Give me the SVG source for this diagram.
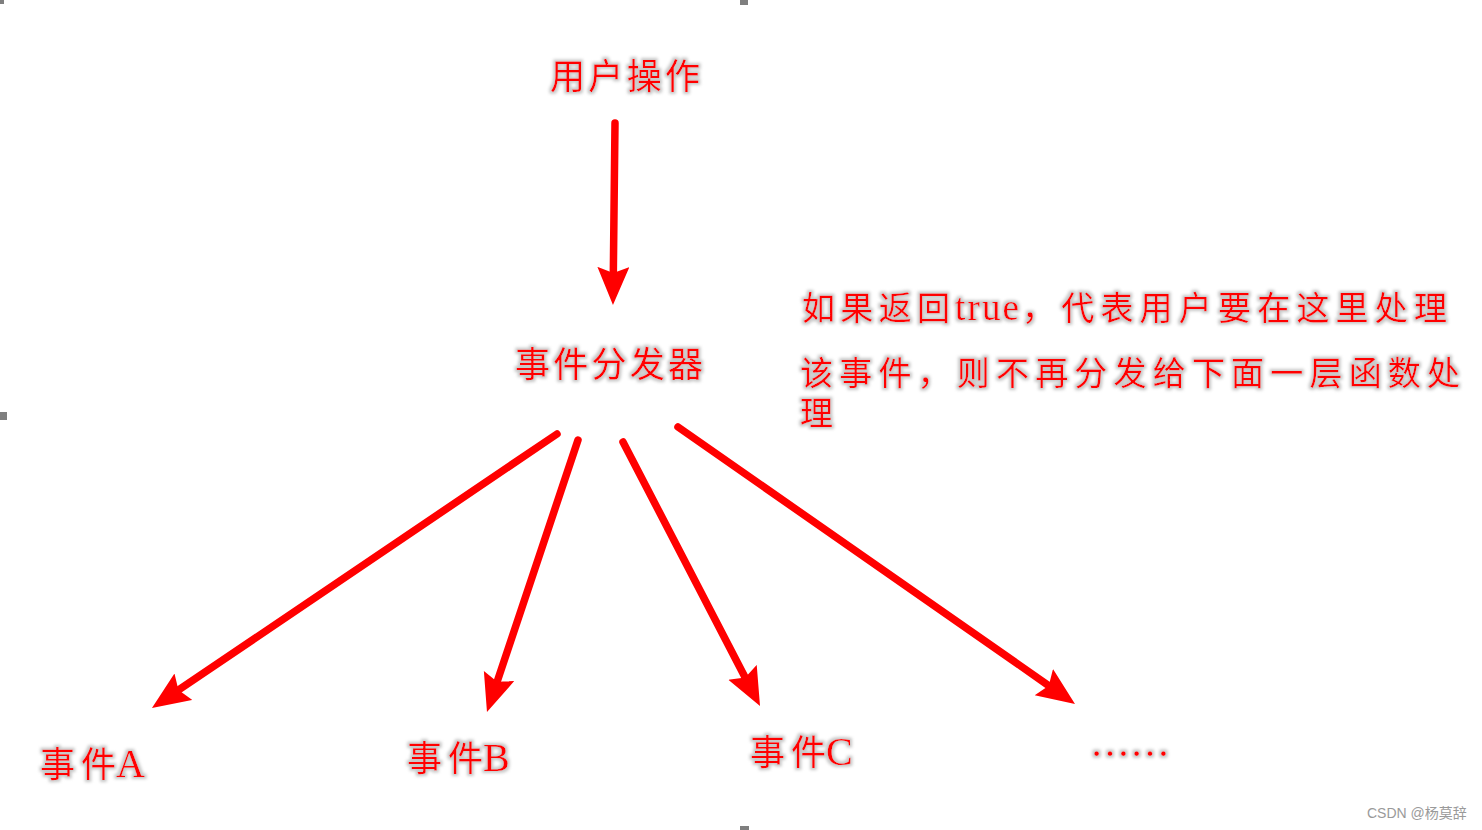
<svg xmlns="http://www.w3.org/2000/svg" width="1482" height="830" viewBox="0 0 1482 830">
<style>
.lbl{fill:#ff0000;font-family:"Liberation Serif","Noto Sans CJK SC",serif;filter:url(#glow)}
.big{font-size:35px}
.mid{font-size:33px}
.lat{font-size:40px}
.arr{stroke:#ff0000;stroke-width:7.5;fill:none;stroke-linecap:round;marker-end:url(#ah)}
.mk{fill:#7f7f7f}
.wm{fill:#9a9a9a;font-family:"Liberation Sans","Noto Sans CJK SC",sans-serif;font-size:14px}
</style>
<defs>
<filter id="glow" x="-10%" y="-30%" width="120%" height="160%">
<feMorphology in="SourceAlpha" operator="dilate" radius="1.5" result="d"/>
<feGaussianBlur in="d" stdDeviation="1.5" result="b"/>
<feFlood flood-color="#c8c8c8"/>
<feComposite in2="b" operator="in" result="g"/>
<feMerge><feMergeNode in="g"/><feMergeNode in="SourceGraphic"/></feMerge>
</filter>
<marker id="ah" markerUnits="userSpaceOnUse" markerWidth="40" markerHeight="34" refX="8" refY="16" orient="auto" viewBox="0 0 40 34">
<path d="M0,0 L38,16 L0,32 L6,16 Z" fill="#ff0000"/>
</marker>
</defs>
<rect width="1482" height="830" fill="#ffffff"/>
<g id="handles">
<rect class="mk" x="0" y="0" width="4" height="4"/>
<rect class="mk" x="740" y="0" width="8" height="5"/>
<rect class="mk" x="0" y="412" width="7" height="8"/>
<rect class="mk" x="740" y="826" width="9" height="4"/>
</g>
<g id="connectors">
<line class="arr" x1="615" y1="123" x2="613.3" y2="275"/>
<line class="arr" x1="557" y1="434" x2="176.8" y2="691.2"/>
<line class="arr" x1="578" y1="440" x2="496.5" y2="683.6"/>
<line class="arr" x1="623" y1="442" x2="746.2" y2="679.4"/>
<line class="arr" x1="678" y1="427" x2="1050.4" y2="686.8"/>
</g>
<g id="node-user-op"><text class="lbl big" x="550" y="89" textLength="150" lengthAdjust="spacing">用户操作</text></g>
<g id="node-dispatcher"><text class="lbl big" x="515" y="377" textLength="188" lengthAdjust="spacing">事件分发器</text></g>
<g id="note">
<text class="lbl mid" y="320"><tspan x="802" textLength="148" lengthAdjust="spacing">如果返回</tspan><tspan x="955" font-size="37" textLength="64" lengthAdjust="spacing">true</tspan><tspan x="1022" textLength="425" lengthAdjust="spacing">，代表用户要在这里处理</tspan></text>
<text class="lbl mid" x="800" y="385" textLength="660" lengthAdjust="spacing">该事件，则不再分发给下面一层函数处</text>
<text class="lbl mid" x="800" y="425">理</text>
</g>
<g id="node-a"><text class="lbl big" y="777"><tspan x="40" textLength="76" lengthAdjust="spacing">事件</tspan><tspan class="lat" x="116">A</tspan></text></g>
<g id="node-b"><text class="lbl big" y="771"><tspan x="407" textLength="76" lengthAdjust="spacing">事件</tspan><tspan class="lat" x="483">B</tspan></text></g>
<g id="node-c"><text class="lbl big" y="765"><tspan x="750" textLength="76" lengthAdjust="spacing">事件</tspan><tspan class="lat" x="826">C</tspan></text></g>
<g id="node-more"><text class="lbl" font-size="40" x="1090" y="756">……</text></g>
<g id="watermark"><text class="wm" x="1367" y="818">CSDN @杨莫辞</text></g>
</svg>
